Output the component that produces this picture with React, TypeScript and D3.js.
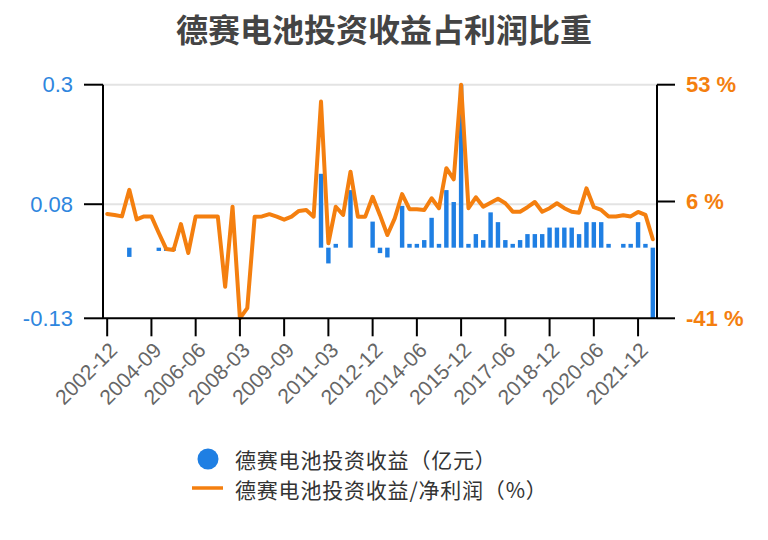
import React from "react";
import * as d3 from "d3";

// reporting periods (early years miss a few quarters)
const DATES = [
  "2002-12", "2003-06", "2003-09", "2003-12", "2004-03", "2004-06", "2004-09", "2004-12",
  "2005-06", "2005-09", "2005-12", "2006-03", "2006-06", "2006-09", "2006-12", "2007-06",
  "2007-09", "2007-12", "2008-03", "2008-06", "2008-09", "2008-12", "2009-03", "2009-06",
  "2009-09", "2009-12", "2010-03", "2010-06", "2010-09", "2010-12", "2011-03", "2011-06",
  "2011-09", "2011-12", "2012-06", "2012-09", "2012-12", "2013-03", "2013-06", "2013-09",
  "2013-12", "2014-03", "2014-06", "2014-09", "2014-12", "2015-03", "2015-06", "2015-09",
  "2015-12", "2016-03", "2016-06", "2016-09", "2016-12", "2017-03", "2017-06", "2017-09",
  "2017-12", "2018-03", "2018-06", "2018-09", "2018-12", "2019-03", "2019-06", "2019-09",
  "2019-12", "2020-03", "2020-06", "2020-09", "2020-12", "2021-03", "2021-06", "2021-09",
  "2021-12", "2022-03", "2022-06",
];

// 投资收益 (亿元)
const INCOME = [
  0, 0, 0, -0.017, 0, 0, 0, -0.006, -0.006, -0.006, 0, 0, 0, 0, 0, 0,
  0, 0, 0, 0, 0, 0, 0, 0, 0, 0, 0, 0, 0, 0.136, -0.029, 0.007,
  0, 0.106, 0, 0, 0.048, -0.01, -0.018, 0, 0.077, 0.007, 0.007, 0.014, 0.055, 0.007,
  0.106, 0.084, 0.3, 0.007, 0.025, 0.014, 0.065, 0.047, 0.014, 0.007, 0.014, 0.025,
  0.025, 0.025, 0.037, 0.037, 0.037, 0.037, 0.025, 0.047, 0.047, 0.047, 0.007, 0,
  0.007, 0.007, 0.047, 0.007, -0.13,
];

// 投资收益/净利润 (%)
const RATIO = [
  1.0, 0.6, 0, 10.7, -1.2, 0, 0, -6.7, -13.1, -13.5, -3.1, -14.7, 0, 0, 0, 0,
  -28.3, 3.9, -41, -36.9, -0.1, 0, 0.9, -0.1, -1.3, -0.1, 2.2, 2.6, -0.1, 46.2, -10.8, 3.9,
  0.6, 18, -0.1, -0.1, 7.9, 0.5, -7.5, -0.8, 9, 2.9, 2.9, 2.6, 7.3, 3.3,
  19.4, 14.9, 53, 3.3, 7.7, 3.9, 5.5, 7.1, 5.3, 1.9, 1.9, 3.7,
  5.8, 1.9, 3.3, 5.3, 3.3, 1.9, 1.5, 11.3, 3.7, 2.6, 0, 0,
  0.5, 0, 1.8, 0.6, -9.2,
];

const TICK_DATES = [
  "2002-12", "2004-09", "2006-06", "2008-03", "2009-09", "2011-03", "2012-12",
  "2014-06", "2015-12", "2017-06", "2018-12", "2020-06", "2021-12",
];
const LEFT_TICKS = [0.3, 0.08, -0.13];
const LEFT_LABELS = ["0.3", "0.08", "-0.13"];
const RIGHT_TICKS = [53, 6, -41];

const BLUE = "#1f7fe3";
const ORANGE = "#f47f0f";
const FONT = "'Liberation Sans', Arial, 'Noto Sans CJK SC', sans-serif";
const CJK = "'Noto Sans CJK SC', sans-serif";

export default function App() {
  const left = 103, right = 657, top = 84.7, bottom = 318.3;

  const x = d3.scaleBand<string>().domain(DATES).range([left + 0.5, right - 0.5])
    .paddingInner(0.4).paddingOuter(0.2);
  const cx = (d: string) => (x(d) as number) + x.bandwidth() / 2;
  const yL = d3.scaleLinear().domain([-0.13, 0.3]).range([bottom, top]);
  const yR = d3.scaleLinear().domain([-41, 53]).range([bottom, top]);

  const line = d3.line<number>()
    .x((_, i) => cx(DATES[i]))
    .y(d => yR(d));

  return (
    <div style={{ position: "absolute", left: 0, top: 0 }}>
      <svg width={768} height={540} style={{ display: "block", background: "#fff" }}>
        <text x={384} y={33} textAnchor="middle" dominantBaseline="middle"
          style={{ fontFamily: CJK, fontSize: 32, fontWeight: 700, fill: "#444" }}>
          德赛电池投资收益占利润比重
        </text>

        {/* grid */}
        {LEFT_TICKS.slice(0, 2).map(t => (
          <line key={t} x1={left} x2={right} y1={yL(t)} y2={yL(t)} stroke="#e3e3e3" strokeWidth={2} />
        ))}

        {/* bars */}
        {INCOME.map((v, i) => v === 0 ? null : (
          <rect key={i} x={x(DATES[i])} width={x.bandwidth()}
            y={Math.min(yL(v), yL(0))} height={Math.abs(yL(v) - yL(0))} fill={BLUE} />
        ))}

        <path d={line(RATIO) || ""} fill="none" stroke={ORANGE} strokeWidth={4}
          strokeLinejoin="round" strokeLinecap="round" />

        {/* axes */}
        <line x1={left} x2={left} y1={top} y2={bottom} stroke="#000" strokeWidth={2} />
        <line x1={right} x2={right} y1={top} y2={bottom} stroke="#000" strokeWidth={2} />
        <line x1={left} x2={right} y1={bottom} y2={bottom} stroke="#000" strokeWidth={2} />

        {LEFT_TICKS.map((t, i) => (
          <g key={t}>
            <line x1={left - 19} x2={left} y1={yL(t)} y2={yL(t)} stroke="#000" strokeWidth={2} />
            <text x={73} y={yL(t)} textAnchor="end" dominantBaseline="central"
              style={{ fontFamily: FONT, fontSize: 22, fill: "#2e86de" }}>{LEFT_LABELS[i]}</text>
          </g>
        ))}
        {RIGHT_TICKS.map(t => (
          <g key={t}>
            <line x1={right} x2={right + 18} y1={yR(t)} y2={yR(t)} stroke="#000" strokeWidth={2} />
            <text x={686} y={yR(t)} dominantBaseline="central"
              style={{ fontFamily: FONT, fontSize: 22, fontWeight: 700, fill: ORANGE }}>{t} %</text>
          </g>
        ))}

        {TICK_DATES.map(d => (
          <g key={d}>
            <line x1={cx(d)} x2={cx(d)} y1={bottom} y2={bottom + 18} stroke="#000" strokeWidth={2} />
            <text transform={`translate(${cx(d) + 6},${bottom + 28}) rotate(-45)`} textAnchor="end"
              dominantBaseline="central"
              style={{ fontFamily: FONT, fontSize: 21, fill: "#666" }}>{d}</text>
          </g>
        ))}

        {/* legend */}
        <circle cx={208} cy={459} r={10.5} fill={BLUE} />
        <text x={235} y={459} dominantBaseline="central"
          style={{ fontFamily: CJK, fontSize: 21, letterSpacing: 0.8, fill: "#333" }}>德赛电池投资收益（亿元）</text>
        <line x1={192} x2={223} y1={488} y2={488} stroke={ORANGE} strokeWidth={3.5} />
        <text x={235} y={489} dominantBaseline="central"
          style={{ fontFamily: CJK, fontSize: 21, letterSpacing: 0.8, fill: "#333" }}>德赛电池投资收益/净利润（%）</text>
      </svg>
    </div>
  );
}
